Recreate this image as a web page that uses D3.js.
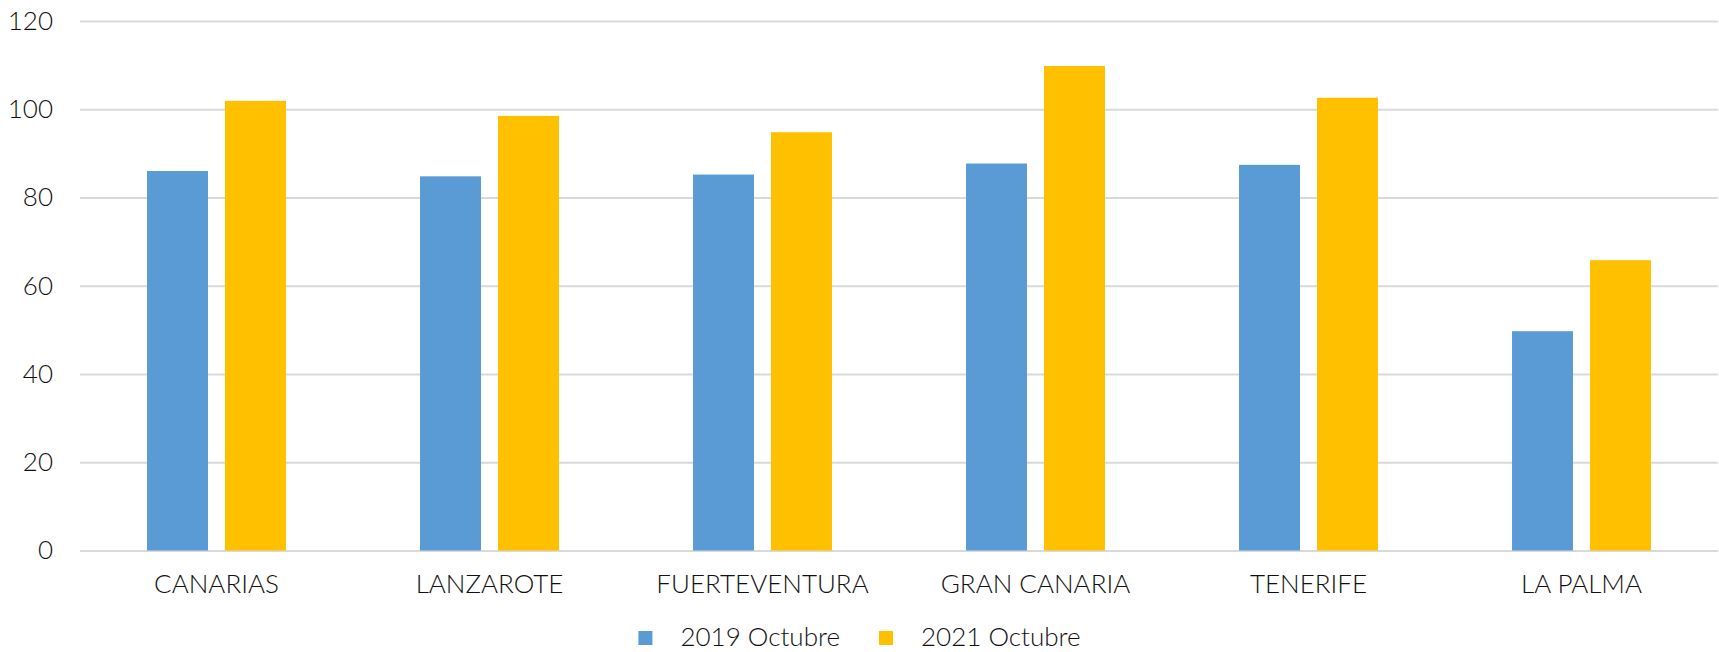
<!DOCTYPE html>
<html>
<head>
<meta charset="utf-8">
<script src="https://cdn.jsdelivr.net/npm/d3@7"></script>
<style>
  html, body { margin: 0; padding: 0; background: #fff; }
  svg { display: block; }
  text { font-family: Lato, "Open Sans", sans-serif; font-weight: 300; fill: #111; }
</style>
</head>
<body>
<svg id="chart" width="1719" height="652"></svg>
<script>
const categories = ["CANARIAS", "LANZAROTE", "FUERTEVENTURA", "GRAN CANARIA", "TENERIFE", "LA PALMA"];
const seriesNames = ["2019 Octubre", "2021 Octubre"];
const values2019 = [86.0, 84.8, 85.2, 87.7, 87.4, 49.7];
const values2021 = [101.9, 98.5, 94.8, 109.8, 102.6, 65.8];
const yTicks = [0, 20, 40, 60, 80, 100, 120];
const colors = ["#5B9BD5", "#FFC000"];

(function () {
const W = 1719, H = 652;
const svg = d3.select("#chart");
const plotLeft = 80, plotRight = 1718, plotTop = 21, plotBottom = 550.5;
const font = "Lato, 'Open Sans', sans-serif";

const x0 = d3.scaleBand().domain(categories).range([plotLeft, plotRight])
  .paddingInner(0.491).paddingOuter(0.2455);
const x1 = d3.scaleBand().domain(seriesNames).range([0, x0.bandwidth()]).paddingInner(0.218);
const y = d3.scaleLinear().domain([0, 120]).range([plotBottom, plotTop]);

// gridlines
const yAxis = d3.axisLeft(y).tickValues(yTicks).tickSize(-(plotRight - plotLeft)).tickPadding(27);
const gy = svg.append("g").attr("transform", `translate(${plotLeft},0)`).call(yAxis);
gy.select(".domain").remove();
gy.selectAll(".tick line").attr("stroke", "#d9d9d9").attr("stroke-width", 2);
gy.selectAll(".tick text").style("font-size", "26px").style("font-weight", 300).attr("fill", "#111")
  .style("font-family", font);

// bars
const data = categories.map((c, i) => ({ cat: c, vals: [values2019[i], values2021[i]] }));
const groups = svg.append("g").selectAll("g").data(data).join("g")
  .attr("transform", d => `translate(${x0(d.cat)},0)`);
groups.selectAll("rect").data(d => d.vals.map((v, k) => ({ name: seriesNames[k], v, k })))
  .join("rect")
  .attr("x", d => x1(d.name))
  .attr("width", x1.bandwidth())
  .attr("y", d => y(d.v))
  .attr("height", d => y(0) - y(d.v))
  .attr("fill", d => colors[d.k]);

// category labels
const xAxis = d3.axisBottom(x0).tickSize(0).tickPadding(24);
const gx = svg.append("g").attr("transform", `translate(0,${plotBottom})`).call(xAxis);
gx.select(".domain").remove();
gx.selectAll(".tick text").style("font-size", "26px").style("font-weight", 300).attr("fill", "#111")
  .style("font-family", font);

// legend
const legend = svg.append("g");
const items = legend.selectAll("g").data(seriesNames).join("g");
items.append("rect").attr("width", 14).attr("height", 14).attr("y", -15)
  .attr("fill", (d, i) => colors[i]);
items.append("text").attr("x", 42).attr("y", 0).style("font-size", "26px").text(d => d);
let xpos = 0;
items.each(function () {
  const w = this.getBBox().width;
  d3.select(this).attr("transform", `translate(${xpos},0)`);
  xpos += w + 39;
});
const totalW = xpos - 39;
legend.attr("transform", `translate(${(W - totalW) / 2},646)`);
})();
</script>
</body>
</html>
